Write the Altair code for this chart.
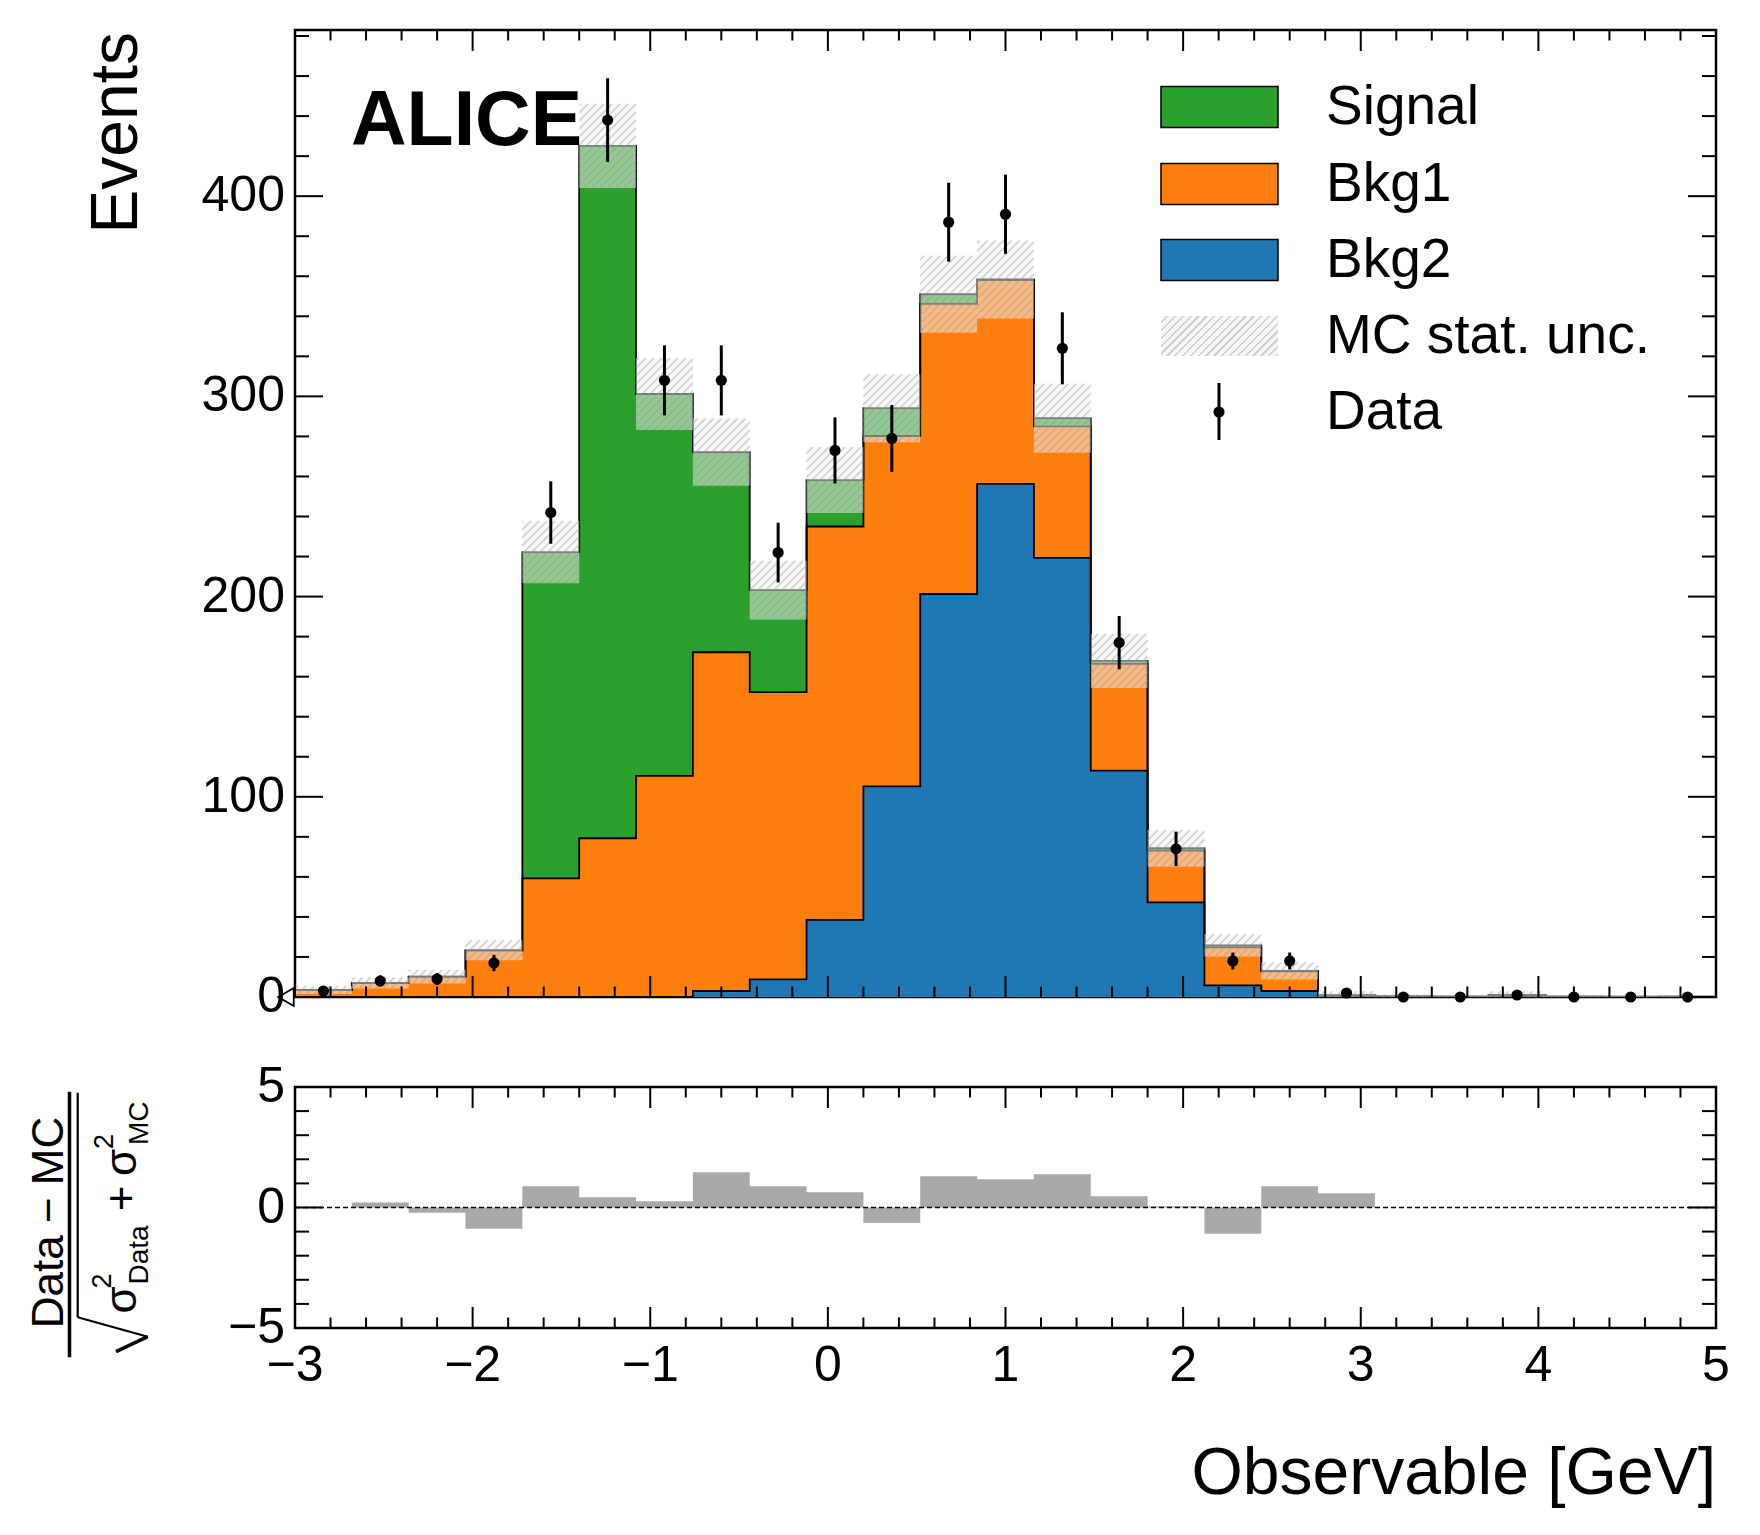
import numpy as np
import pandas as pd
import altair as alt

FONT = "Liberation Sans"
W, H_TOP, H_BOT = 1421, 967, 241
Y_MAX = 483

# 25 bins of width 0.32 between -3 and 5
edges = np.round(np.linspace(-3, 5, 26), 2)
centers = np.round((edges[:-1] + edges[1:]) / 2, 2)

# stacked MC components, events per bin
bkg2 = [0, 0, 0, 0, 0, 0, 0, 3.0, 8.8, 38.5, 105.2, 201.3, 256.3, 219.3, 113.1,
        47.3, 5.8, 3.0, 0.2, 0, 0, 0, 0, 0, 0]
bkg1 = [3.5, 7.0, 10.2, 23.3, 59.3, 79.3, 110.4, 169.2, 143.5, 196.5, 175.0, 144.9,
        101.8, 65.7, 53.3, 25.8, 19.0, 9.8, 0.5, 0.3, 0.2, 0.9, 0.2, 0.1, 0.2]
signal = [0, 0, 0, 0, 162.9, 345.8, 190.8, 99.9, 50.9, 23.2, 13.9, 4.8, 0.3, 4.1,
          1.5, 1.2, 1.0, 0.2, 0.2, 0, 0, 0, 0, 0, 0]
mc_unc = [2.0, 2.8, 3.4, 5.0, 15.6, 21.0, 18.0, 16.8, 14.7, 16.5, 17.0, 19.2, 19.5,
          17.2, 13.5, 9.2, 5.6, 4.2, 2.0, 1.0, 0.8, 2.0, 0.8, 0.6, 0.8]
data_n = [3, 8, 9, 17, 242, 438, 308, 308, 222, 273, 279, 387, 391, 324, 177, 74,
          18, 18, 2, 0, 0, 1, 0, 0, 0]
data_err = [1.7, 2.8, 3.0, 4.1, 15.6, 20.9, 17.5, 17.5, 14.9, 16.5, 16.7, 19.7, 19.8,
            18.0, 13.3, 8.6, 4.2, 4.2, 1.4, 0, 0, 1.0, 0, 0, 0]
pull = [0, 0.21, -0.22, -0.88, 0.88, 0.43, 0.26, 1.46, 0.88, 0.63, -0.64, 1.30, 1.17,
        1.38, 0.47, 0.05, -1.09, 0.88, 0.59, 0, 0, 0, 0, 0, 0]

names = ["Bkg2", "Bkg1", "Signal"]
colors = ["#1f77b4", "#ff7f0e", "#2ca02c"]

x_major = list(range(-3, 6))
x_minor = [round(v, 1) for v in np.arange(-3, 5.01, 0.2) if abs(v - round(v)) > 1e-6]
y_major_top = [0, 100, 200, 300, 400]
y_minor_top = [v for v in range(20, Y_MAX, 20) if v % 100]
y_major_bot = [-5, 0, 5]
y_minor_bot = [-4, -3, -2, -1, 1, 2, 3, 4]


def edge_vals(v):
    # step-after needs the last bin value repeated at the right edge
    return list(v) + [list(v)[-1]]


def fmt(v):
    return str(v).replace("-", "\u2212")


rows = []
lower = np.zeros(25)
for name, comp in zip(names, [bkg2, bkg1, signal]):
    upper = lower + np.array(comp)
    for x, a, b in zip(edges, edge_vals(lower), edge_vals(upper)):
        rows.append({"comp": name, "x": x, "lower": a, "upper": b})
    lower = upper
total = lower
stack_df = pd.DataFrame(rows)

unc = np.array(mc_unc)
band_hi = total + unc
band_lo = np.clip(total - unc, 0, None)
band_df = pd.DataFrame({"x": edges, "hi": edge_vals(band_hi), "lo": edge_vals(band_lo)})

KX, KY = W / 8, H_TOP / Y_MAX


def hatch(x0s, x1s, y0s, y1s, step=8.0):
    segs = []
    for xa, xb, ya, yb in zip(x0s, x1s, y0s, y1s):
        ua, ub, va, vb = (xa + 3) * KX, (xb + 3) * KX, ya * KY, yb * KY
        c = np.ceil((ua - vb) / step) * step
        while c < ub - va:
            s, e = max(va, ua - c), min(vb, ub - c)
            if e > s:
                segs.append({"x": (s + c) / KX - 3, "y": s / KY,
                             "x2": (e + c) / KX - 3, "y2": e / KY})
            c += step
    return pd.DataFrame(segs)


hatch_df = hatch(edges[:-1], edges[1:], band_lo, band_hi)

pts_df = pd.DataFrame({"c": centers, "n": data_n,
                       "lo": np.array(data_n) - np.array(data_err),
                       "hi": np.array(data_n) + np.array(data_err)})
ratio_df = pd.DataFrame({"x": edges, "p": edge_vals(pull), "z": 0.0})
one = pd.DataFrame({"k": [0]})

xs = alt.Scale(domain=[-3, 5], nice=False, zero=False)
ys_top = alt.Scale(domain=[0, Y_MAX], nice=False, zero=False)
ys_bot = alt.Scale(domain=[-5, 5], nice=False, zero=False)


def X(f):
    return alt.X(f, type="quantitative", scale=xs, axis=None)


def tick_layers(ymaj, ymin, yscale, h):
    out = []
    for vals, size in ((x_major, 21), (x_minor, 10.5)):
        base = alt.Chart(pd.DataFrame({"v": vals})).mark_rule(color="black", strokeWidth=2)
        out.append(base.encode(x=X("v"), y=alt.value(0), y2=alt.value(size)))
        out.append(base.encode(x=X("v"), y=alt.value(h), y2=alt.value(h - size)))
    for vals, size in ((ymaj, 28), (ymin, 14)):
        base = alt.Chart(pd.DataFrame({"v": vals})).mark_rule(color="black", strokeWidth=2)
        yv = alt.Y("v:Q", scale=yscale, axis=None)
        out.append(base.encode(y=yv, x=alt.value(0), x2=alt.value(size)))
        out.append(base.encode(y=yv, x=alt.value(W), x2=alt.value(W - size)))
    return out


def y_labels(vals, yscale):
    d = pd.DataFrame({"v": vals, "t": [fmt(v) for v in vals]})
    return alt.Chart(d).mark_text(align="right", baseline="middle", fontSize=50,
                                  color="black").encode(
        y=alt.Y("v:Q", scale=yscale, axis=None), x=alt.value(-10), text="t:N")


def rot_text(txt, x, y, size, align="center"):
    return alt.Chart(one).mark_text(text=txt, fontSize=size, angle=270, align=align,
                                    baseline="alphabetic", color="black").encode(
        x=alt.value(x), y=alt.value(y))


def seg(x, y, x2, y2, w):
    return alt.Chart(one).mark_rule(color="black", strokeWidth=w).encode(
        x=alt.value(x), y=alt.value(y), x2=alt.value(x2), y2=alt.value(y2))


# ---- main panel
fills = alt.Chart(stack_df).mark_area(interpolate="step-after").encode(
    x=X("x"),
    y=alt.Y("upper:Q", scale=ys_top, axis=None, stack=None),
    y2="lower:Q",
    color=alt.Color("comp:N", scale=alt.Scale(domain=names, range=colors), legend=None),
)
outlines = alt.Chart(stack_df).mark_line(interpolate="step-after", color="black",
                                         strokeWidth=1.8).encode(
    x=X("x"), y=alt.Y("upper:Q", scale=ys_top, axis=None), detail="comp:N")

band = alt.Chart(band_df).mark_area(interpolate="step-after", color="#f4f4f4",
                                    opacity=0.5).encode(
    x=X("x"), y=alt.Y("hi:Q", scale=ys_top, axis=None), y2="lo:Q")
hatching = alt.Chart(hatch_df).mark_rule(color="#9a9a9a", opacity=0.45,
                                         strokeWidth=1.5).encode(
    x=X("x"), y=alt.Y("y:Q", scale=ys_top, axis=None), x2="x2:Q", y2="y2:Q")

errs = alt.Chart(pts_df).mark_rule(color="black", strokeWidth=3).encode(
    x=X("c"), y=alt.Y("lo:Q", scale=ys_top, axis=None), y2="hi:Q")
pts = alt.Chart(pts_df).mark_circle(color="black", size=125, opacity=1).encode(
    x=X("c"), y=alt.Y("n:Q", scale=ys_top, axis=None))

flow = alt.Chart(pd.DataFrame({"x": [-3.0], "y": [0.0]})).mark_point(
    shape="triangle-left", filled=True, fill="white", stroke="black", strokeWidth=1.8,
    size=320, xOffset=-9, opacity=1).encode(
    x=X("x"), y=alt.Y("y:Q", scale=ys_top, axis=None))

alice = alt.Chart(one).mark_text(text="ALICE", fontSize=77, fontWeight="bold", align="left",
                                 baseline="alphabetic", color="black").encode(
    x=alt.value(56), y=alt.value(115))

# legend
leg_labels = ["Signal", "Bkg1", "Bkg2", "MC stat. unc.", "Data"]
leg_fill = ["#2ca02c", "#ff7f0e", "#1f77b4"]
row_y = [77, 154, 230, 306, 382]
stops = []
for k in range(20):
    stops += [{"offset": k / 20, "color": "#f7f7f7"},
              {"offset": (k + 0.7) / 20, "color": "#f7f7f7"},
              {"offset": (k + 0.7) / 20, "color": "#cfcfcf"},
              {"offset": (k + 1) / 20, "color": "#cfcfcf"}]
hatch_fill = {"gradient": "linear", "x1": 0, "y1": 0, "x2": 1.2, "y2": 0.41, "stops": stops}

legend = []
for i, (label, ry) in enumerate(zip(leg_labels, row_y)):
    if i < 3:
        legend.append(alt.Chart(one).mark_rect(fill=leg_fill[i], stroke="black",
                                               strokeWidth=1.5).encode(
            x=alt.value(866), x2=alt.value(983), y=alt.value(ry - 20.5), y2=alt.value(ry + 20.5)))
    elif i == 3:
        legend.append(alt.Chart(one).mark_rect(fill=hatch_fill).encode(
            x=alt.value(866), x2=alt.value(983), y=alt.value(ry - 20), y2=alt.value(ry + 20)))
    else:
        legend.append(alt.Chart(one).mark_rule(color="black", strokeWidth=3).encode(
            x=alt.value(924), y=alt.value(ry - 29), y2=alt.value(ry + 28)))
        legend.append(alt.Chart(one).mark_circle(color="black", size=125, opacity=1).encode(
            x=alt.value(924), y=alt.value(ry)))
    legend.append(alt.Chart(one).mark_text(text=label, fontSize=55, align="left",
                                           baseline="middle", color="black").encode(
        x=alt.value(1031), y=alt.value(ry)))

top = alt.layer(fills, outlines, band, hatching, errs, pts, flow,
                *tick_layers(y_major_top, y_minor_top, ys_top, H_TOP),
                y_labels(y_major_top, ys_top),
                rot_text("Events", -158, 2, 66, align="right"),
                alice, *legend).properties(width=W, height=H_TOP)

# ---- ratio panel
bars = alt.Chart(ratio_df).mark_area(interpolate="step-after", color="#a9a9a9").encode(
    x=X("x"), y=alt.Y("p:Q", scale=ys_bot, axis=None), y2="z:Q")
zero = alt.Chart(pd.DataFrame({"y": [0.0]})).mark_rule(
    color="black", strokeWidth=1.5, strokeDash=[5, 3]).encode(
    y=alt.Y("y:Q", scale=ys_bot, axis=None))

x_lab = alt.Chart(pd.DataFrame({"v": x_major, "t": [fmt(v) for v in x_major]})).mark_text(
    align="center", baseline="alphabetic", fontSize=50, color="black").encode(
    x=X("v"), y=alt.value(H_BOT + 53), text="t:N")
x_title = alt.Chart(one).mark_text(text="Observable [GeV]", fontSize=66, align="right",
                                   baseline="alphabetic", color="black").encode(
    x=alt.value(W), y=alt.value(H_BOT + 166))

ylabel_bot = [
    rot_text("Data \u2212 MC", -232, 135.5, 44),
    seg(-225.5, 4.7, -225.5, 270.3, 3.5),
    seg(-217.3, 5.7, -217.3, 230.3, 2.2),
    seg(-217.3, 230.3, -147.3, 249.7, 2.2),
    seg(-147.3, 249.7, -179, 264.7, 3.5),
    rot_text("\u03c3", -159, 213, 44),
    rot_text("2", -184, 194, 27),
    rot_text("Data", -147.3, 168, 28),
    rot_text("+", -159, 111.3, 44),
    rot_text("\u03c3", -159, 75.5, 44),
    rot_text("2", -182, 54.5, 27),
    rot_text("MC", -147.3, 36.3, 28),
]

bottom = alt.layer(bars, zero, *tick_layers(y_major_bot, y_minor_bot, ys_bot, H_BOT),
                   y_labels(y_major_bot, ys_bot), x_lab, x_title,
                   *ylabel_bot).properties(width=W, height=H_BOT)

chart = alt.vconcat(top, bottom, spacing=36).properties(
    padding={"left": 18, "top": 19, "right": 5, "bottom": 5}
).configure_view(stroke="black", strokeWidth=2.5).configure_text(font=FONT)

chart.save("out.html", embed_options={"renderer": "svg", "actions": False})
